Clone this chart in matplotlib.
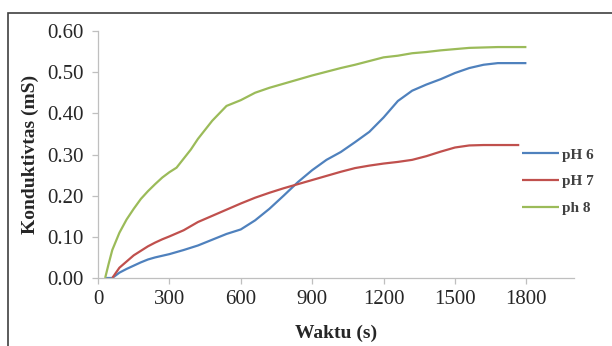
import matplotlib
matplotlib.use("Agg")
import matplotlib.pyplot as plt
from matplotlib.patches import Rectangle

# Data
t_ph6 = [30, 60, 90, 120, 150, 180, 210, 240, 270, 300, 360, 420, 480, 540, 600, 660, 720, 780,
         840, 900, 960, 1020, 1080, 1140, 1200, 1260, 1320, 1380, 1440, 1500, 1560, 1620, 1680, 1740, 1800]
v_ph6 = [0.0, 0.0, 0.013, 0.022, 0.030, 0.038, 0.045, 0.050, 0.054, 0.058, 0.068, 0.079, 0.093, 0.107,
         0.118, 0.140, 0.168, 0.200, 0.233, 0.262, 0.287, 0.306, 0.330, 0.355, 0.390, 0.430, 0.455, 0.470,
         0.483, 0.498, 0.510, 0.518, 0.522, 0.522, 0.522]

t_ph7 = [60, 90, 120, 150, 180, 210, 240, 270, 300, 360, 420, 480, 540, 600, 660, 720, 780, 840, 900,
         960, 1020, 1080, 1140, 1200, 1260, 1320, 1380, 1440, 1500, 1560, 1620, 1680, 1770]
v_ph7 = [0.0, 0.025, 0.040, 0.055, 0.066, 0.077, 0.086, 0.094, 0.101, 0.116, 0.136, 0.151, 0.166, 0.181,
         0.195, 0.207, 0.218, 0.228, 0.238, 0.248, 0.258, 0.267, 0.273, 0.278, 0.282, 0.287, 0.296, 0.307,
         0.317, 0.322, 0.323, 0.323, 0.323]

t_ph8 = [30, 45, 60, 90, 120, 150, 180, 210, 240, 270, 300, 330, 360, 390, 420, 450, 480, 510, 540, 600,
         660, 720, 780, 840, 900, 960, 1020, 1080, 1140, 1200, 1260, 1320, 1380, 1440, 1500, 1560, 1620,
         1680, 1740, 1800]
v_ph8 = [0.0, 0.035, 0.068, 0.110, 0.142, 0.168, 0.192, 0.211, 0.228, 0.244, 0.257, 0.268, 0.290, 0.312,
         0.338, 0.360, 0.382, 0.400, 0.418, 0.432, 0.450, 0.462, 0.472, 0.482, 0.492, 0.501, 0.510, 0.518,
         0.527, 0.536, 0.540, 0.546, 0.549, 0.553, 0.556, 0.559, 0.560, 0.561, 0.561, 0.561]

labels = ["pH 6", "pH 7", "ph 8"]
colors = ["#4F81BD", "#C0504D", "#9BBB59"]
x_ticks = [0, 300, 600, 900, 1200, 1500, 1800]
y_ticks = [0.0, 0.1, 0.2, 0.3, 0.4, 0.5, 0.6]

plt.rcParams['font.family'] = ['Liberation Serif', 'DejaVu Serif']

fig = plt.figure(figsize=(6.12, 3.46), dpi=100)
W, H = 612, 346
ax = fig.add_axes([98 / W, 1 - 278 / H, (574 - 98) / W, (278 - 31) / H])

for t, v, lab, c in zip([t_ph6, t_ph7, t_ph8], [v_ph6, v_ph7, v_ph8], labels, colors):
    ax.plot(t, v, color=c, lw=1.6, label=lab, solid_capstyle='butt')

ax.set_xlim(0, 2000)
ax.set_ylim(0, 0.6)
ax.set_xticks(x_ticks)
ax.set_yticks(y_ticks)
ax.set_yticklabels([f"{y:.2f}" for y in y_ticks])
for s in ['top', 'right']:
    ax.spines[s].set_visible(False)
for s in ['left', 'bottom']:
    ax.spines[s].set_color('#BFBFBF')
    ax.spines[s].set_linewidth(0.9)
ax.tick_params(axis='both', colors='#BFBFBF', labelcolor='#262626', labelsize=15, direction='out',
               length=4, width=0.9)
ax.tick_params(axis='x', pad=5)
ax.tick_params(axis='y', pad=6)

ax.set_xlabel("Waktu (s)", fontsize=14, fontweight='bold', color='#262626', labelpad=11)
ax.set_ylabel("Konduktivtas (mS)", fontsize=14, fontweight='bold', color='#262626', labelpad=6)

leg = ax.legend(loc='upper left', bbox_to_anchor=(522 / W, 1 - 148 / H), bbox_transform=fig.transFigure,
                frameon=False, fontsize=11, handlelength=2.4, handletextpad=0.2, labelspacing=0.85,
                borderaxespad=0, borderpad=0)
for txt in leg.get_texts():
    txt.set_fontweight('bold')
    txt.set_color('#404040')

# outer frame
fig.patches.append(Rectangle((8 / W, -0.1), 1.2, 1 - 13 / H + 0.1, transform=fig.transFigure,
                             fill=False, edgecolor='#404040', lw=1.2))

fig.savefig("out.png", dpi=100)
